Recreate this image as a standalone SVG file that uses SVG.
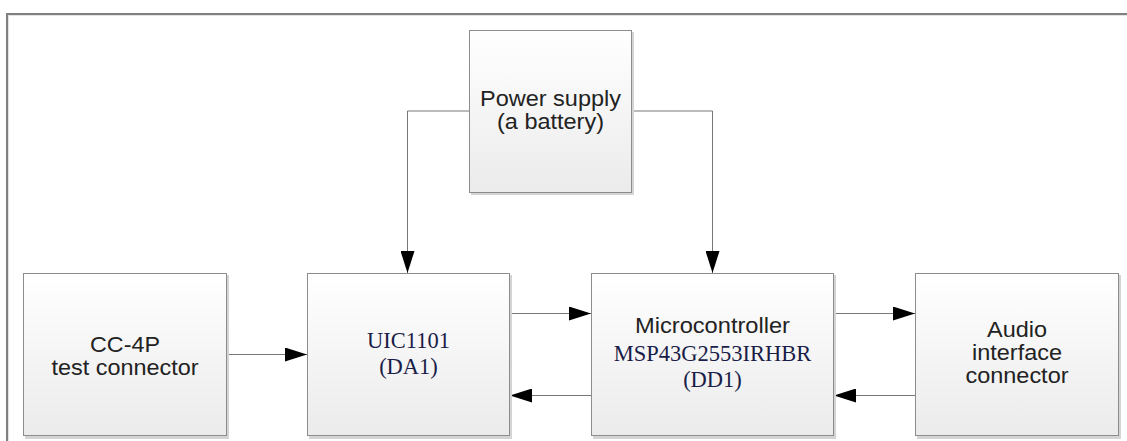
<svg xmlns="http://www.w3.org/2000/svg" width="1127" height="441" viewBox="0 0 1127 441">
<style>
.box{fill:url(#g);stroke:#8c8c8c;stroke-width:1}
.sh{fill:#d4d4d4}
.t{font-family:"Liberation Sans",Arial,sans-serif;font-size:22px;fill:#222;text-anchor:middle}
.s{font-family:"Liberation Serif","Times New Roman",serif;font-size:22.5px;fill:#1a1d48;text-anchor:middle}
.c{fill:none;stroke:#777;stroke-width:1}
</style>
<defs>
<linearGradient id="g" x1="0" y1="0" x2="0" y2="1">
<stop offset="0" stop-color="#ffffff"/>
<stop offset="1" stop-color="#ebebeb"/>
</linearGradient>
<marker id="a" markerWidth="22" markerHeight="14" refX="22" refY="7" orient="auto" markerUnits="userSpaceOnUse">
<path d="M0,0 L22,7 L0,14 Z" fill="#000"/>
</marker>
</defs>
<rect width="1127" height="441" fill="#fff"/>
<g id="frame">
<path d="M7,441 V14 H1127" fill="none" stroke="#808080" stroke-width="2"/>
<path d="M8.5,441 V15.5 H1127" fill="none" stroke="#e4e4e4" stroke-width="1"/>
</g>
<g id="connectors">
<path class="c" d="M469,111 H407.5 V273" marker-end="url(#a)"/>
<path class="c" d="M632,111 H712.5 V273" marker-end="url(#a)"/>
<path class="c" d="M227,354.5 H307" marker-end="url(#a)"/>
<path class="c" d="M510,313.5 H591" marker-end="url(#a)"/>
<path class="c" d="M591,395.5 H510" marker-end="url(#a)"/>
<path class="c" d="M834,313.5 H915" marker-end="url(#a)"/>
<path class="c" d="M915,395.5 H834" marker-end="url(#a)"/>
</g>
<g id="power">
<rect class="sh" x="471" y="32" width="163" height="163"/>
<rect class="box" x="469.5" y="30.5" width="162" height="162"/>
<text class="t" x="550.5" y="106" textLength="141" lengthAdjust="spacingAndGlyphs">Power supply</text>
<text class="t" x="550.5" y="129" textLength="107" lengthAdjust="spacingAndGlyphs">(a battery)</text>
</g>
<g id="cc4p">
<rect class="sh" x="25" y="275" width="204" height="164"/>
<rect class="box" x="23.5" y="273.5" width="203" height="162"/>
<text class="t" x="125" y="352" textLength="70" lengthAdjust="spacingAndGlyphs">CC-4P</text>
<text class="t" x="125" y="375" textLength="147" lengthAdjust="spacingAndGlyphs">test connector</text>
</g>
<g id="uic">
<rect class="sh" x="309" y="275" width="203" height="164"/>
<rect class="box" x="307.5" y="273.5" width="202" height="162"/>
<text class="s" x="408.5" y="348">UIC1101</text>
<text class="s" x="408.5" y="374">(DA1)</text>
</g>
<g id="mcu">
<rect class="sh" x="593" y="275" width="243" height="164"/>
<rect class="box" x="591.5" y="273.5" width="242" height="162"/>
<text class="t" x="712.5" y="333" textLength="155" lengthAdjust="spacingAndGlyphs">Microcontroller</text>
<text class="s" x="712.5" y="361">MSP43G2553IRHBR</text>
<text class="s" x="712.5" y="387">(DD1)</text>
</g>
<g id="audio">
<rect class="sh" x="917" y="275" width="204" height="164"/>
<rect class="box" x="915.5" y="273.5" width="203" height="162"/>
<text class="t" x="1017" y="337" textLength="60" lengthAdjust="spacingAndGlyphs">Audio</text>
<text class="t" x="1017" y="360" textLength="90" lengthAdjust="spacingAndGlyphs">interface</text>
<text class="t" x="1017" y="383" textLength="103" lengthAdjust="spacingAndGlyphs">connector</text>
</g>
</svg>
